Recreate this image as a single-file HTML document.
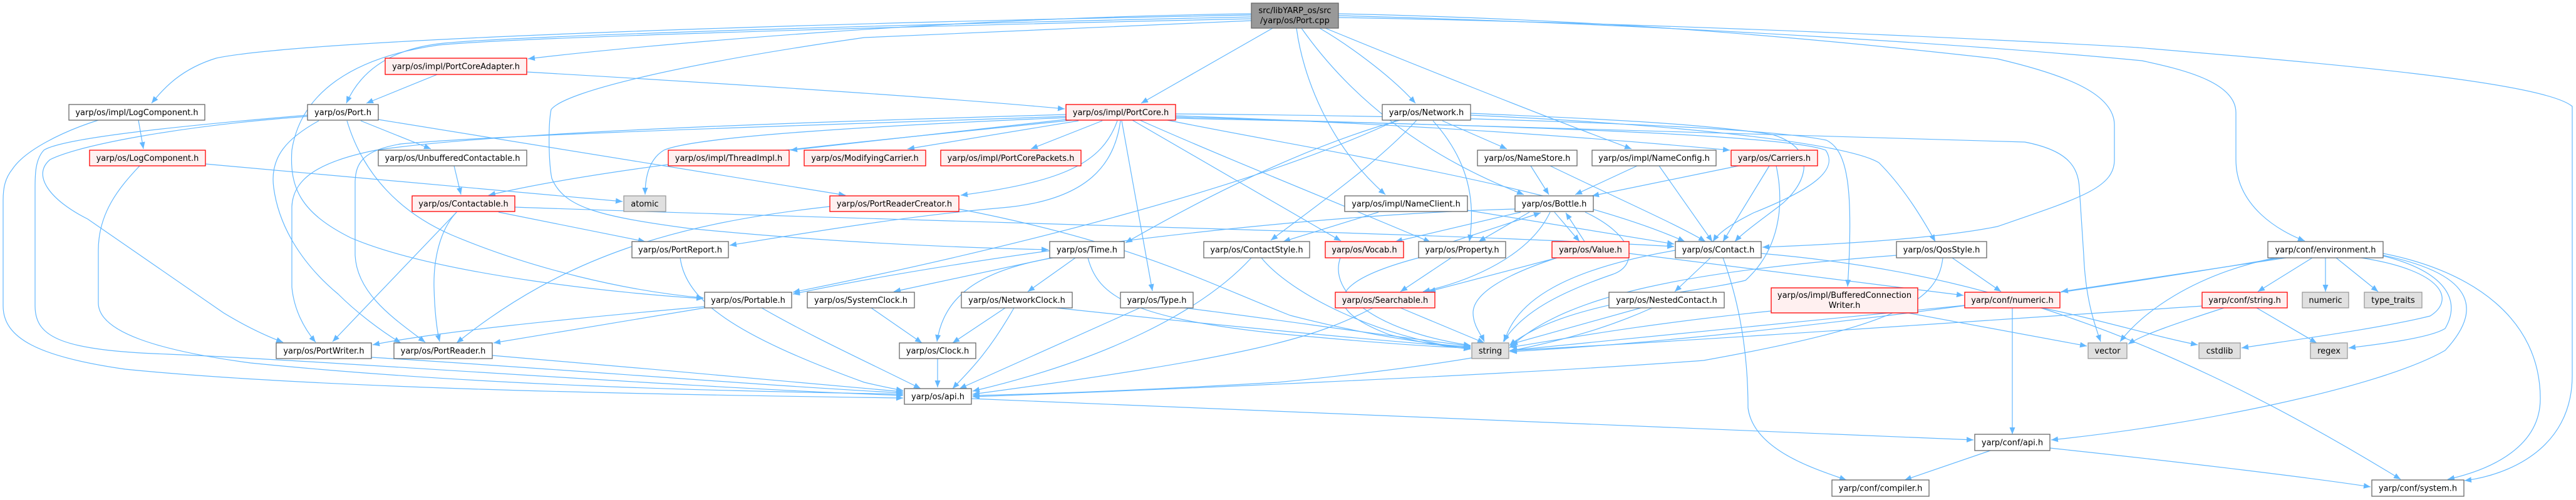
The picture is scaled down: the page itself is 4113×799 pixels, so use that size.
<!DOCTYPE html>
<html><head><meta charset="utf-8"><style>
html,body{margin:0;padding:0;background:#fff;}
svg{display:block;}
text{font-family:"DejaVu Sans","Liberation Sans",sans-serif;font-size:13px;fill:#000;}
.e{fill:none;stroke:#63b8ff;stroke-width:1.2;marker-end:url(#ah);}
.n{fill:#fff;stroke:#666;stroke-width:1.3;}
.r{fill:#fff0f0;stroke:#f00;stroke-width:1.3;}
.g{fill:#e0e0e0;stroke:#999;stroke-width:1.3;}
.root{fill:#999;stroke:#666;stroke-width:1.3;}
</style></head><body>
<svg width="4113" height="799" viewBox="0 0 4113 799" xmlns="http://www.w3.org/2000/svg">
<defs><marker id="ah" markerWidth="11" markerHeight="9" refX="11" refY="4.5" orient="auto" markerUnits="userSpaceOnUse"><path d="M0,0 L11,4.5 L0,9 z" fill="#63b8ff"/></marker></defs>
<rect width="4113" height="799" fill="#fff"/>
<g>
<path class="e" d="M1998,22 C1500,28 1000,75 843,94"/>
<path class="e" d="M1998,24 C1400,35 500,60 345,93 C290,110 262,140 242,165"/>
<path class="e" d="M1998,27 C1400,40 800,58 700,70 C620,80 575,115 553,165"/>
<path class="e" d="M1998,30 C1300,45 800,62 700,72 C560,92 480,150 466,240 C462,300 480,340 560,380 C700,440 1000,470 1123,477"/>
<path class="e" d="M1998,33 C1700,45 1450,55 1380,60 C1100,100 903,145 880,175 C875,200 876,260 881,285 C900,330 950,345 1100,365 C1300,385 1500,395 1674,399"/>
<path class="e" d="M2032,45 L1822,165"/>
<path class="e" d="M2107,45 C2150,70 2220,120 2260,165"/>
<path class="e" d="M2070,45 C2080,120 2120,230 2212,311"/>
<path class="e" d="M2078,45 C2152,150 2263,245 2433,311"/>
<path class="e" d="M2116,45 C2250,100 2450,180 2605,238"/>
<path class="e" d="M2137,22 C2500,30 2800,50 3189,94 C3300,120 3376,150 3376,200 L3376,255 C3376,300 3323,316 3189,362 C3100,380 2950,390 2814,395"/>
<path class="e" d="M2137,25 C2700,40 3200,76 3420,97 C3480,110 3570,130 3570,180 L3570,255 C3570,330 3640,370 3680,385"/>
<path class="e" d="M2137,28 C2800,40 3400,75 3413,76 C3700,100 4060,130 4107,170 L4107,600 C4107,720 4000,760 3935,768"/>
<path class="e" d="M698,119 L585,165"/>
<path class="e" d="M841,115 C1100,130 1500,155 1700,174"/>
<path class="e" d="M221,192 L229,238"/>
<path class="e" d="M157,192 C100,210 40,240 20,270 C8,285 5,300 5,320 L5,489 C5,540 60,570 200,590 C500,620 1000,630 1442,636"/>
<path class="e" d="M576,193 L688,238"/>
<path class="e" d="M604,191 L1350,312"/>
<path class="e" d="M491,184 C300,200 100,220 70,240 C56,255 56,280 56,300 L56,489 C56,540 100,560 268,566 C500,575 1100,620 1442,632"/>
<path class="e" d="M491,186 C300,200 130,230 80,255 C50,280 80,320 140,350 L357,500 C390,520 420,535 452,547"/>
<path class="e" d="M509,193 C460,220 430,250 437,300 C445,360 480,420 540,470 C570,500 610,530 640,548"/>
<path class="e" d="M554,193 C580,280 640,340 720,375 C850,430 1000,465 1123,476"/>
<path class="e" d="M328,262 L994,322"/>
<path class="e" d="M223,265 C190,300 157,340 157,400 L157,484 C157,530 250,560 400,580 C800,620 1200,625 1442,630"/>
<path class="e" d="M725,265 L736,311"/>
<path class="e" d="M729,339 L531,546"/>
<path class="e" d="M729,339 C700,370 692,420 693,460 C694,500 698,530 702,546"/>
<path class="e" d="M796,339 L1030,386"/>
<path class="e" d="M822,331 C1500,355 2300,372 2673,394"/>
<path class="e" d="M1702,183 C1300,195 800,210 600,240 C500,260 468,290 466,330 L466,459 C470,500 490,530 504,547"/>
<path class="e" d="M1702,186 C1300,200 800,215 640,230 C580,240 568,260 567,290 L567,408 C570,470 630,510 679,547"/>
<path class="e" d="M1712,192 C1400,225 1000,260 780,312"/>
<path class="e" d="M1710,190 L1262,240"/>
<path class="e" d="M1702,188 C1300,205 1100,222 1060,240 C1035,255 1030,285 1030,311"/>
<path class="e" d="M1722,193 L1449,238"/>
<path class="e" d="M1760,193 L1646,238"/>
<path class="e" d="M1784,193 C1760,260 1700,290 1534,312"/>
<path class="e" d="M1789,193 C1780,260 1740,320 1600,332 C1450,345 1300,370 1165,392"/>
<path class="e" d="M1791,193 L1840,465"/>
<path class="e" d="M1808,192 L2141,385"/>
<path class="e" d="M1820,192 C1950,250 2150,330 2284,387"/>
<path class="e" d="M1864,192 C2100,240 2500,300 2690,386"/>
<path class="e" d="M1877,185 C2300,200 2600,225 2762,240"/>
<path class="e" d="M1877,182 C2300,185 2800,200 2916,224 C2950,240 2960,300 2950,458"/>
<path class="e" d="M1877,187 C2400,205 2900,215 3233,227 C3300,240 3318,265 3320,300 L3327,408 C3330,480 3345,520 3354,546"/>
<path class="e" d="M1877,189 C2400,200 2850,215 2915,240 C2935,270 2900,300 2800,340 C2770,355 2745,370 2735,386"/>
<path class="e" d="M2303,193 L2406,238"/>
<path class="e" d="M2288,193 C2330,240 2360,300 2346,386"/>
<path class="e" d="M2235,192 C2100,230 1950,300 1797,388"/>
<path class="e" d="M2262,192 C2200,260 2100,330 2029,384"/>
<path class="e" d="M2230,192 C2000,300 1600,400 1266,467"/>
<path class="e" d="M2348,181 C2500,188 2700,195 2830,215 C2910,240 2880,300 2840,330 C2800,360 2780,375 2770,386"/>
<path class="e" d="M2348,184 C2700,200 2950,230 3000,260 C3040,300 3070,350 3090,386"/>
<path class="e" d="M2444,265 L2473,311"/>
<path class="e" d="M2475,265 C2589,320 2680,360 2723,386"/>
<path class="e" d="M2614,265 L2515,311"/>
<path class="e" d="M2649,265 L2734,386"/>
<path class="e" d="M2776,265 L2542,313"/>
<path class="e" d="M2825,265 L2751,386"/>
<path class="e" d="M2836,265 C2850,330 2840,400 2787,448 C2700,470 2500,480 2410,552"/>
<path class="e" d="M2201,339 L2049,386"/>
<path class="e" d="M2343,336 L2673,390"/>
<path class="e" d="M2428,339 L2228,386"/>
<path class="e" d="M2442,339 L2361,386"/>
<path class="e" d="M2482,339 L2522,386"/>
<path class="e" d="M2475,339 C2442,408 2352,448 2272,466"/>
<path class="e" d="M2531,339 C2611,377 2616,423 2576,438 C2486,469 2430,500 2400,546"/>
<path class="e" d="M2419,334 C2000,346 1500,420 1266,470"/>
<path class="e" d="M2320,386 L2460,340"/>
<path class="e" d="M2317,412 L2236,466"/>
<path class="e" d="M2265,412 C2129,448 2100,490 2219,535 C2280,550 2320,556 2348,557"/>
<path class="e" d="M2530,386 L2500,340"/>
<path class="e" d="M2486,412 L2281,466"/>
<path class="e" d="M2486,412 C2400,440 2352,470 2352,500 C2352,520 2365,535 2370,546"/>
<path class="e" d="M2601,405 L3135,472"/>
<path class="e" d="M2731,412 L2674,466"/>
<path class="e" d="M2675,400 C2500,430 2420,480 2402,546"/>
<path class="e" d="M2751,412 C2787,510 2791,600 2791,652 C2800,720 2900,750 2948,767"/>
<path class="e" d="M2812,405 C3100,430 3400,500 3833,766"/>
<path class="e" d="M3117,412 L3195,466"/>
<path class="e" d="M3028,408 C2700,433 2500,470 2410,556"/>
<path class="e" d="M3102,412 C3095,480 3032,520 2720,576 C2400,600 1800,625 1553,634"/>
<path class="e" d="M3692,412 L3605,466"/>
<path class="e" d="M3713,412 L3713,466"/>
<path class="e" d="M3730,412 L3797,466"/>
<path class="e" d="M3770,412 C3904,433 3920,480 3880,505 C3800,525 3650,545 3579,556"/>
<path class="e" d="M3801,408 C3904,433 3931,479 3904,525 C3880,540 3800,550 3750,556"/>
<path class="e" d="M3805,405 C3949,433 4056,510 4056,637 C4056,713 3980,750 3908,766"/>
<path class="e" d="M3650,412 L3291,466"/>
<path class="e" d="M3632,412 C3500,440 3420,500 3385,546"/>
<path class="e" d="M3805,408 C3960,440 3960,500 3904,560 C3800,620 3500,680 3275,703"/>
<path class="e" d="M3640,412 C3300,470 2800,540 2411,562"/>
<path class="e" d="M3603,492 L3699,548"/>
<path class="e" d="M3516,489 C3200,510 2700,545 2411,560"/>
<path class="e" d="M3551,492 C3480,515 3420,535 3398,550"/>
<path class="e" d="M3213,492 L3213,694"/>
<path class="e" d="M3137,488 C2800,520 2500,550 2411,560"/>
<path class="e" d="M3260,492 C3350,510 3450,540 3509,551"/>
<path class="e" d="M2828,497 C2600,520 2450,550 2411,555"/>
<path class="e" d="M3046,500 L3332,553"/>
<path class="e" d="M2620,492 L2412,550"/>
<path class="e" d="M2638,492 C2531,540 2397,576 2040,611 C1800,625 1650,630 1553,632"/>
<path class="e" d="M2236,492 L2370,548"/>
<path class="e" d="M2192,492 C2100,540 2000,570 1553,630"/>
<path class="e" d="M2140,412 C2120,470 2200,530 2348,552"/>
<path class="e" d="M1998,412 C1918,499 1762,576 1553,625"/>
<path class="e" d="M2014,412 C2060,469 2200,540 2348,558"/>
<path class="e" d="M1717,412 L1641,466"/>
<path class="e" d="M1679,412 L1427,466"/>
<path class="e" d="M1681,412 C1561,433 1507,474 1496,546"/>
<path class="e" d="M1737,412 C1753,474 1806,510 2060,535 C2200,548 2300,555 2348,556"/>
<path class="e" d="M1605,492 L1521,548"/>
<path class="e" d="M1619,492 C1574,571 1540,600 1521,621"/>
<path class="e" d="M1686,492 C1900,515 2200,545 2348,555"/>
<path class="e" d="M1391,492 L1472,548"/>
<path class="e" d="M1497,573 L1497,619"/>
<path class="e" d="M1820,492 L1532,621"/>
<path class="e" d="M1891,492 C2000,505 2200,535 2348,553"/>
<path class="e" d="M1125,490 C900,510 700,530 595,551"/>
<path class="e" d="M1125,492 L788,548"/>
<path class="e" d="M1216,492 C1300,540 1380,576 1470,621"/>
<path class="e" d="M1086,412 C1095,480 1171,535 1380,611 C1410,618 1430,622 1442,624"/>
<path class="e" d="M593,571 C900,590 1200,615 1442,628"/>
<path class="e" d="M786,568 C1000,585 1300,615 1442,626"/>
<path class="e" d="M1325,330 C1082,357 903,408 729,548"/>
<path class="e" d="M1531,334 C1806,387 1918,448 2060,504 C2200,540 2300,552 2348,554"/>
<path class="e" d="M1551,637 C2000,655 2700,685 3151,703"/>
<path class="e" d="M3178,720 L3041,767"/>
<path class="e" d="M3273,716 C3500,740 3700,765 3785,778"/>
</g>
<g>
<rect class="root" x="1998" y="5" width="139" height="40"/>
<text x="2067.5" y="21" text-anchor="middle">src/libYARP_os/src</text>
<text x="2067.5" y="37" text-anchor="middle">/yarp/os/Port.cpp</text>

<rect class="r" x="615" y="93" width="226" height="26"/><text x="728" y="110.5" text-anchor="middle">yarp/os/impl/PortCoreAdapter.h</text>
<rect class="n" x="110" y="167" width="217" height="25"/><text x="218.5" y="184" text-anchor="middle">yarp/os/impl/LogComponent.h</text>
<rect class="n" x="491" y="167" width="113" height="25"/><text x="547.5" y="184" text-anchor="middle">yarp/os/Port.h</text>
<rect class="r" x="1702" y="167" width="175" height="25"/><text x="1789.5" y="184" text-anchor="middle">yarp/os/impl/PortCore.h</text>
<rect class="n" x="2207" y="167" width="141" height="25"/><text x="2277.5" y="184" text-anchor="middle">yarp/os/Network.h</text>

<rect class="r" x="143" y="240" width="185" height="25"/><text x="235.5" y="257" text-anchor="middle">yarp/os/LogComponent.h</text>
<rect class="n" x="604" y="240" width="237" height="25"/><text x="722.5" y="257" text-anchor="middle">yarp/os/UnbufferedContactable.h</text>
<rect class="r" x="1067" y="240" width="193" height="25"/><text x="1163.5" y="257" text-anchor="middle">yarp/os/impl/ThreadImpl.h</text>
<rect class="r" x="1284" y="240" width="194" height="25"/><text x="1381" y="257" text-anchor="middle">yarp/os/ModifyingCarrier.h</text>
<rect class="r" x="1502" y="240" width="224" height="25"/><text x="1614" y="257" text-anchor="middle">yarp/os/impl/PortCorePackets.h</text>
<rect class="n" x="2359" y="240" width="159" height="25"/><text x="2438.5" y="257" text-anchor="middle">yarp/os/NameStore.h</text>
<rect class="n" x="2542" y="240" width="198" height="25"/><text x="2641" y="257" text-anchor="middle">yarp/os/impl/NameConfig.h</text>
<rect class="r" x="2764" y="240" width="138" height="25"/><text x="2833" y="257" text-anchor="middle">yarp/os/Carriers.h</text>

<rect class="r" x="658" y="313" width="164" height="25"/><text x="740" y="330" text-anchor="middle">yarp/os/Contactable.h</text>
<rect class="g" x="996" y="313" width="67" height="25"/><text x="1029.5" y="330" text-anchor="middle">atomic</text>
<rect class="r" x="1325" y="313" width="206" height="25"/><text x="1428" y="330" text-anchor="middle">yarp/os/PortReaderCreator.h</text>
<rect class="n" x="2147" y="313" width="196" height="25"/><text x="2245" y="330" text-anchor="middle">yarp/os/impl/NameClient.h</text>
<rect class="n" x="2419" y="313" width="125" height="25"/><text x="2481.5" y="330" text-anchor="middle">yarp/os/Bottle.h</text>

<rect class="n" x="1009" y="386" width="154" height="26"/><text x="1086" y="403.5" text-anchor="middle">yarp/os/PortReport.h</text>
<rect class="n" x="1676" y="386" width="119" height="26"/><text x="1735.5" y="403.5" text-anchor="middle">yarp/os/Time.h</text>
<rect class="n" x="1922" y="386" width="169" height="26"/><text x="2006.5" y="403.5" text-anchor="middle">yarp/os/ContactStyle.h</text>
<rect class="r" x="2116" y="386" width="125" height="26"/><text x="2178.5" y="403.5" text-anchor="middle">yarp/os/Vocab.h</text>
<rect class="n" x="2265" y="386" width="139" height="26"/><text x="2334.5" y="403.5" text-anchor="middle">yarp/os/Property.h</text>
<rect class="r" x="2478" y="386" width="123" height="26"/><text x="2539.5" y="403.5" text-anchor="middle">yarp/os/Value.h</text>
<rect class="n" x="2675" y="386" width="137" height="26"/><text x="2743.5" y="403.5" text-anchor="middle">yarp/os/Contact.h</text>
<rect class="n" x="3028" y="386" width="144" height="26"/><text x="3100" y="403.5" text-anchor="middle">yarp/os/QosStyle.h</text>
<rect class="n" x="3621" y="386" width="184" height="26"/><text x="3713" y="403.5" text-anchor="middle">yarp/conf/environment.h</text>

<rect class="n" x="1125" y="467" width="139" height="25"/><text x="1194.5" y="484" text-anchor="middle">yarp/os/Portable.h</text>
<rect class="n" x="1289" y="467" width="171" height="25"/><text x="1374.5" y="484" text-anchor="middle">yarp/os/SystemClock.h</text>
<rect class="n" x="1535" y="467" width="177" height="25"/><text x="1623.5" y="484" text-anchor="middle">yarp/os/NetworkClock.h</text>
<rect class="n" x="1789" y="467" width="116" height="25"/><text x="1847" y="484" text-anchor="middle">yarp/os/Type.h</text>
<rect class="r" x="2132" y="467" width="159" height="25"/><text x="2211.5" y="484" text-anchor="middle">yarp/os/Searchable.h</text>
<rect class="n" x="2569" y="467" width="184" height="25"/><text x="2661" y="484" text-anchor="middle">yarp/os/NestedContact.h</text>
<rect class="r" x="2828" y="460" width="234" height="40"/>
<text x="2945" y="476" text-anchor="middle">yarp/os/impl/BufferedConnection</text>
<text x="2945" y="492" text-anchor="middle">Writer.h</text>
<rect class="r" x="3137" y="467" width="152" height="25"/><text x="3213" y="484" text-anchor="middle">yarp/conf/numeric.h</text>
<rect class="r" x="3516" y="467" width="136" height="25"/><text x="3584" y="484" text-anchor="middle">yarp/conf/string.h</text>
<rect class="g" x="3676" y="467" width="74" height="25"/><text x="3713" y="484" text-anchor="middle">numeric</text>
<rect class="g" x="3775" y="467" width="92" height="25"/><text x="3821" y="484" text-anchor="middle">type_traits</text>

<rect class="n" x="441" y="548" width="152" height="25"/><text x="517" y="565" text-anchor="middle">yarp/os/PortWriter.h</text>
<rect class="n" x="629" y="548" width="157" height="25"/><text x="707.5" y="565" text-anchor="middle">yarp/os/PortReader.h</text>
<rect class="n" x="1436" y="548" width="122" height="25"/><text x="1497" y="565" text-anchor="middle">yarp/os/Clock.h</text>
<rect class="g" x="2350" y="548" width="59" height="25"/><text x="2379.5" y="565" text-anchor="middle">string</text>
<rect class="g" x="3334" y="548" width="62" height="25"/><text x="3365" y="565" text-anchor="middle">vector</text>
<rect class="g" x="3511" y="548" width="66" height="25"/><text x="3544" y="565" text-anchor="middle">cstdlib</text>
<rect class="g" x="3689" y="548" width="59" height="25"/><text x="3718.5" y="565" text-anchor="middle">regex</text>

<rect class="n" x="1444" y="621" width="107" height="25"/><text x="1497.5" y="638" text-anchor="middle">yarp/os/api.h</text>
<rect class="n" x="3153" y="694" width="120" height="26"/><text x="3213" y="711.5" text-anchor="middle">yarp/conf/api.h</text>
<rect class="n" x="2925" y="767" width="155" height="26"/><text x="3002.5" y="784.5" text-anchor="middle">yarp/conf/compiler.h</text>
<rect class="n" x="3787" y="767" width="147" height="26"/><text x="3860.5" y="784.5" text-anchor="middle">yarp/conf/system.h</text>
</g>
</svg>
</body></html>
